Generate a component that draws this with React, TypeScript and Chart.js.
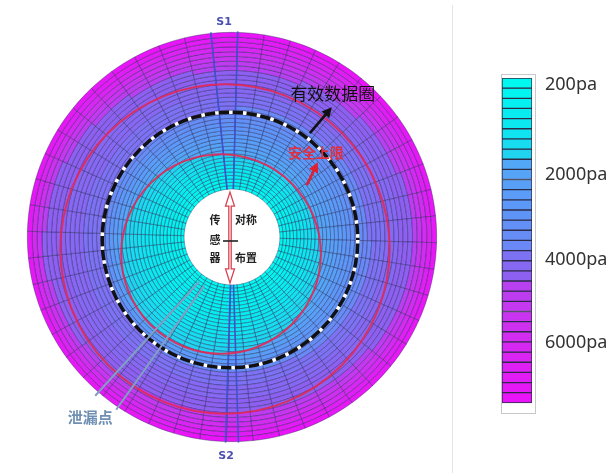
import React, { useEffect, useRef } from 'react';
import { Chart, registerables } from 'chart.js';

Chart.register(...registerables);

// ---------------- data ----------------
const SECTOR_COUNT = 48;
const RING_COUNT = 38;
const GRID_ROTATION = -5.9;

// colour scale (top = low pressure)
const colorbarColors = [
  '#00f8f0', '#02f4f0', '#05f0f0', '#08ecf0', '#0ce8f0', '#10e4f0', '#18dcf0', '#20d4f0',
  '#52a8f6', '#55a4f7', '#58a0f7', '#5a9cf7', '#5c98f7', '#5f94f7', '#6290f6', '#668cf6', '#6a88f6',
  '#7e72f4', '#8668f3', '#8e60f2',
  '#b840f0', '#be3cf0', '#c438f0', '#c934f0', '#ce30f0', '#d22cf0', '#d628f2', '#da24f2',
  '#de20f4', '#e21cf4', '#e618f6', '#ea14f8',
];
const colorbarLabels = ['200pa', '2000pa', '4000pa', '6000pa'];
const colorbarLabelLevels = [0.7, 9.5, 17.9, 26.1];

// disc (outer radius 205, hole 48) and contour edges of the pressure bands:
// cyan|blue, blue|violet, violet|magenta  (centre offset and radii on that disc)
const discOuter = 205;
const discHole = 48;
const edgeCenterX = [-11, 4, -3];
const edgeCenterY = [17, 3.5, 3];
const edgeRadiusX = [100, 134, 185];
const edgeRadiusY = [100, 132.5, 171];
const bandFirstLevel = [0, 8, 17, 20, 32];

// ---------------- grid geometry ----------------
const ringThickness = Array.from({ length: RING_COUNT }, (_, k) => 3.4 + (1.6 * k) / (RING_COUNT - 1));
const ringTotal = ringThickness.reduce((a, b) => a + b, 0);
const ringEdges: number[] = [discHole];
ringThickness.forEach((t) => ringEdges.push(ringEdges[ringEdges.length - 1] + (t * (discOuter - discHole)) / ringTotal));

function edgeDist(ux: number, uy: number, i: number) {
  const rx = edgeRadiusX[i];
  const ry = edgeRadiusY[i];
  const ax = ux / rx, ay = uy / ry;
  const cx = edgeCenterX[i] / rx, cy = edgeCenterY[i] / ry;
  const a = ax * ax + ay * ay;
  const b = ax * cx + ay * cy;
  const c = cx * cx + cy * cy - 1;
  return (b + Math.sqrt(Math.max(b * b - a * c, 0))) / a;
}

function cellLevel(rc: number, theta: number) {
  const ux = Math.sin(theta);
  const uy = -Math.cos(theta);
  const edges = [discHole, edgeDist(ux, uy, 0), edgeDist(ux, uy, 1), edgeDist(ux, uy, 2), discOuter];
  for (let b = 0; b < 4; b++) {
    if (rc < edges[b + 1] || b === 3) {
      let f = (rc - edges[b]) / (edges[b + 1] - edges[b]);
      f = Math.min(Math.max(f, 0), 0.999);
      return Math.floor(bandFirstLevel[b] + f * (bandFirstLevel[b + 1] - bandFirstLevel[b]));
    }
  }
  return 0;
}

function buildRingDatasets() {
  const out: any[] = [];
  for (let d = 0; d < RING_COUNT; d++) {
    const k = RING_COUNT - 1 - d;
    const rc = (ringEdges[k] + ringEdges[k + 1]) / 2;
    const colors: string[] = [];
    for (let j = 0; j < SECTOR_COUNT; j++) {
      const th = ((GRID_ROTATION + ((j + 0.5) * 360) / SECTOR_COUNT) * Math.PI) / 180;
      colors.push(colorbarColors[cellLevel(rc, th)]);
    }
    out.push({
      data: Array(SECTOR_COUNT).fill(1),
      backgroundColor: colors,
      borderColor: 'rgba(30,30,80,0.55)',
      borderWidth: 0.7,
      weight: ringThickness[k],
      hoverOffset: 0,
      offset: 0,
    });
  }
  return out;
}

// ---------------- drawing helpers ----------------
function filledArrow(ctx: CanvasRenderingContext2D, x1: number, y1: number, x2: number, y2: number, color: string, width: number, head: number) {
  const a = Math.atan2(y2 - y1, x2 - x1);
  ctx.strokeStyle = color;
  ctx.fillStyle = color;
  ctx.lineWidth = width;
  ctx.beginPath();
  ctx.moveTo(x1, y1);
  ctx.lineTo(x2 - Math.cos(a) * head * 0.8, y2 - Math.sin(a) * head * 0.8);
  ctx.stroke();
  const bx = x2 - head * Math.cos(a);
  const by = y2 - head * Math.sin(a);
  const hw = head * 0.5;
  ctx.beginPath();
  ctx.moveTo(x2, y2);
  ctx.lineTo(bx + hw * Math.sin(a), by - hw * Math.cos(a));
  ctx.lineTo(bx - hw * Math.sin(a), by + hw * Math.cos(a));
  ctx.closePath();
  ctx.fill();
}

const overlayPlugin = {
  id: 'discOverlay',
  afterDatasetsDraw(chart: any) {
    const arc: any = chart.getDatasetMeta(0).data[0];
    if (!arc) return;
    const { x: cx, y: cy, outerRadius } = arc.getProps(['x', 'y', 'outerRadius'], true);
    const s = outerRadius / discOuter;
    const ctx: CanvasRenderingContext2D = chart.ctx;
    ctx.save();
    ctx.translate(cx, cy);
    ctx.scale(s, s);

    // sensor lines S1 / S2
    ctx.strokeStyle = '#4050d0';
    ctx.lineWidth = 1.6;
    [-5.9, 1.6, 178.2, 181.8].forEach((deg) => {
      const t = (deg * Math.PI) / 180;
      ctx.beginPath();
      ctx.moveTo(Math.sin(t) * discHole, -Math.cos(t) * discHole);
      ctx.lineTo(Math.sin(t) * (discOuter + 1), -Math.cos(t) * (discOuter + 1));
      ctx.stroke();
    });

    // red safety circles
    ctx.strokeStyle = 'rgba(228,40,84,0.9)';
    ctx.lineWidth = 2;
    ctx.beginPath();
    ctx.arc(-7, 12, 165, 0, Math.PI * 2);
    ctx.stroke();
    ctx.beginPath();
    ctx.arc(-11, 17, 100, 0, Math.PI * 2);
    ctx.stroke();

    // effective data circle (black dashed with white squares)
    ctx.strokeStyle = '#111';
    ctx.lineWidth = 3.5;
    ctx.beginPath();
    ctx.arc(-2, 3, 128, 0, Math.PI * 2);
    ctx.stroke();
    ctx.strokeStyle = '#fff';
    ctx.lineWidth = 3.6;
    ctx.setLineDash([3.6, 10.4]);
    ctx.beginPath();
    ctx.arc(-2, 3, 128, 0, Math.PI * 2);
    ctx.stroke();
    ctx.setLineDash([]);

    // leak point lines
    ctx.strokeStyle = '#7f9fc4';
    ctx.lineWidth = 2;
    ctx.beginPath();
    ctx.moveTo(-137, 159);
    ctx.lineTo(-33, 45);
    ctx.moveTo(-116, 173);
    ctx.lineTo(-28, 49);
    ctx.stroke();

    // hollow double arrow in the hole
    const x0 = -2;
    ctx.strokeStyle = '#d84050';
    ctx.lineWidth = 1.3;
    ctx.beginPath();
    ctx.moveTo(x0, -45);
    ctx.lineTo(x0 + 4.5, -31);
    ctx.lineTo(x0 + 1.2, -31);
    ctx.lineTo(x0 + 1.2, 32);
    ctx.lineTo(x0 + 4.5, 32);
    ctx.lineTo(x0, 46);
    ctx.lineTo(x0 - 4.5, 32);
    ctx.lineTo(x0 - 1.2, 32);
    ctx.lineTo(x0 - 1.2, -31);
    ctx.lineTo(x0 - 4.5, -31);
    ctx.closePath();
    ctx.stroke();

    // dash between 感 and the arrow
    ctx.strokeStyle = '#222';
    ctx.lineWidth = 1.6;
    ctx.beginPath();
    ctx.moveTo(-9, 4);
    ctx.lineTo(6, 4);
    ctx.stroke();

    // arrows to annotations
    filledArrow(ctx, 78, -104, 100, -130, '#111', 2.6, 10);
    filledArrow(ctx, 75, -52, 86, -75, '#e02030', 2.6, 10);

    // texts
    ctx.textAlign = 'center';
    ctx.textBaseline = 'middle';
    ctx.fillStyle = '#222';
    ctx.font = 'bold 11px "Noto Sans CJK SC"';
    ctx.fillText('传', -17, -17);
    ctx.fillText('感', -17, 3);
    ctx.fillText('器', -17, 21);
    ctx.fillText('对称', 14, -17);
    ctx.fillText('布置', 14, 21);

    ctx.fillStyle = '#111';
    ctx.font = '17px "Noto Sans CJK SC"';
    ctx.fillText('有效数据圈', 101, -144);

    ctx.fillStyle = '#e03040';
    ctx.font = 'bold 14px "Noto Sans CJK SC"';
    ctx.fillText('安全上限', 84, -84);

    ctx.fillStyle = '#6f8fb3';
    ctx.font = 'bold 15px "Noto Sans CJK SC"';
    ctx.fillText('泄漏点', -142, 181);

    ctx.fillStyle = '#4a50b0';
    ctx.font = 'bold 11px "DejaVu Sans"';
    ctx.fillText('S1', -8, -215);
    ctx.fillText('S2', -6, 220);

    ctx.restore();
  },
};

const colorbarFramePlugin = {
  id: 'colorbarFrame',
  beforeDatasetsDraw(chart: any) {
    const { ctx, chartArea } = chart;
    ctx.save();
    ctx.strokeStyle = '#e4e4e4';
    ctx.lineWidth = 1;
    ctx.beginPath();
    ctx.moveTo(0.5, 5);
    ctx.lineTo(0.5, chart.height);
    ctx.stroke();
    ctx.strokeStyle = '#c8c8c8';
    ctx.strokeRect(chartArea.left - 0.5, chartArea.top - 3.5, chartArea.right - chartArea.left + 4, chartArea.bottom - chartArea.top + 4);
    ctx.restore();
  },
};

export default function App() {
  const discRef = useRef<HTMLCanvasElement>(null);
  const barRef = useRef<HTMLCanvasElement>(null);

  useEffect(() => {
    const disc = new Chart(discRef.current as HTMLCanvasElement, {
      type: 'doughnut',
      data: {
        labels: Array.from({ length: SECTOR_COUNT }, (_, j) => `扇区${j + 1}`),
        datasets: buildRingDatasets(),
      },
      options: {
        responsive: false,
        animation: false,
        events: [],
        cutout: `${(discHole / discOuter) * 100}%`,
        rotation: GRID_ROTATION,
        layout: { padding: { left: 27, top: 32, right: 15, bottom: 31 } },
        plugins: { legend: { display: false }, tooltip: { enabled: false } },
      } as any,
      plugins: [overlayPlugin],
    });

    const barDatasets: any[] = colorbarColors.map((c) => ({
      data: [1],
      backgroundColor: c,
      borderColor: '#2c2c48',
      borderWidth: 1,
      borderSkipped: false,
      barPercentage: 1,
      categoryPercentage: 1,
    }));
    barDatasets.push({ data: [1], backgroundColor: '#ffffff', borderWidth: 0, barPercentage: 1, categoryPercentage: 1 });

    const bar = new Chart(barRef.current as HTMLCanvasElement, {
      type: 'bar',
      data: { labels: ['压力'], datasets: barDatasets },
      options: {
        responsive: false,
        animation: false,
        events: [],
        layout: { padding: { left: 50, top: 78, right: 0, bottom: 60 } },
        plugins: { legend: { display: false }, tooltip: { enabled: false } },
        scales: {
          x: { display: false, stacked: true },
          y: {
            stacked: true,
            reverse: true,
            min: 0,
            max: colorbarColors.length + 1,
            position: 'right',
            grid: { display: false, drawTicks: false },
            border: { display: false },
            afterBuildTicks: (scale: any) => {
              scale.ticks = colorbarLabelLevels.map((v) => ({ value: v }));
            },
            afterFit: (scale: any) => {
              scale.width = 78;
            },
            ticks: {
              autoSkip: false,
              padding: 13,
              color: '#333',
              font: { size: 18, family: '"Noto Sans", sans-serif' },
              callback: (_v: any, i: number) => colorbarLabels[i],
            },
          },
        },
      } as any,
      plugins: [colorbarFramePlugin],
    });

    return () => {
      disc.destroy();
      bar.destroy();
    };
  }, []);

  return (
    <div style={{ position: 'fixed', left: 0, top: 0, width: 610, height: 473, background: '#fff', overflow: 'hidden' }}>
      <canvas ref={discRef} width={452} height={473} style={{ position: 'absolute', left: 0, top: 0, width: 452, height: 473 }} />
      <canvas ref={barRef} width={158} height={473} style={{ position: 'absolute', left: 452, top: 0, width: 158, height: 473 }} />
    </div>
  );
}
